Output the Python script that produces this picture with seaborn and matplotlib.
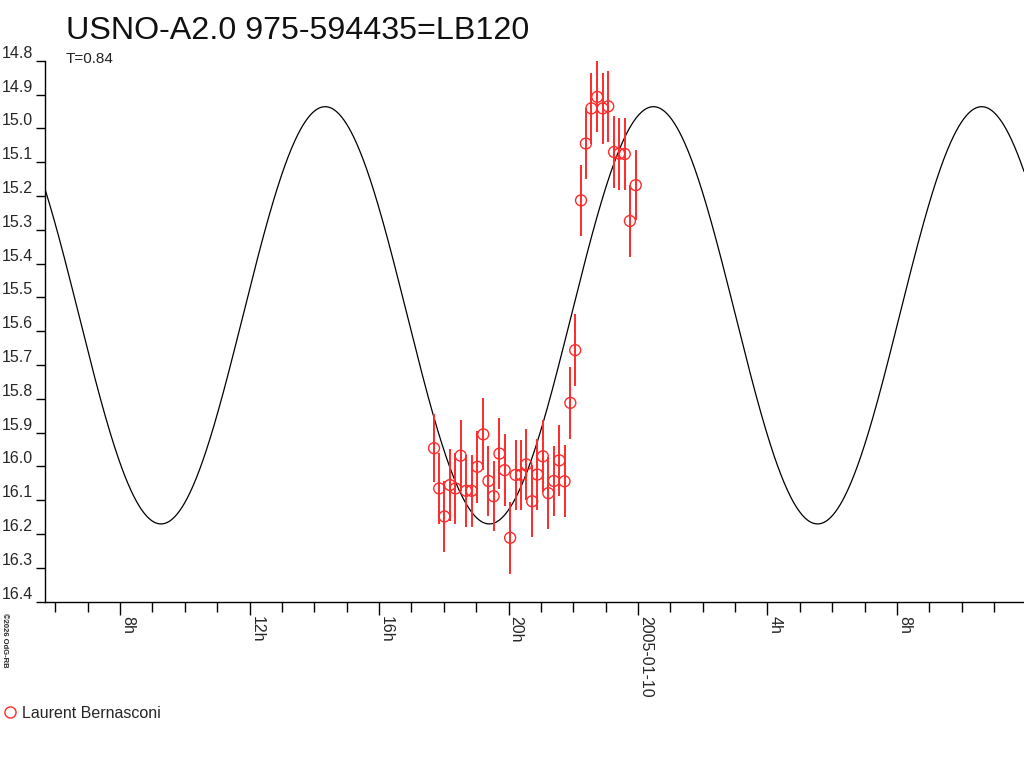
import numpy as np
import pandas as pd
import matplotlib
matplotlib.use("Agg")
import matplotlib.pyplot as plt
from matplotlib.lines import Line2D
from matplotlib.ticker import MultipleLocator, FixedLocator, FixedFormatter
import seaborn as sns

# Observations (hours since 2005-01-09 00:00 UT, magnitude, error)
time_h = [17.70, 17.86, 18.02, 18.19, 18.36, 18.52, 18.69, 18.86, 19.04, 19.22,
          19.38, 19.54, 19.72, 19.88, 20.05, 20.22, 20.39, 20.55, 20.73, 20.89,
          21.06, 21.23, 21.40, 21.57, 21.73, 21.91, 22.06, 22.24, 22.39, 22.56,
          22.74, 22.91, 23.08, 23.26, 23.42, 23.59, 23.75, 23.93]
mag = [15.946, 16.065, 16.148, 16.055, 16.065, 15.968, 16.072, 16.072, 16.001, 15.905,
       16.043, 16.088, 15.962, 16.011, 16.211, 16.025, 16.025, 15.994, 16.103, 16.024,
       15.970, 16.079, 16.043, 15.982, 16.044, 15.812, 15.656, 15.213, 15.045, 14.941,
       14.907, 14.941, 14.935, 15.070, 15.075, 15.076, 15.274, 15.168]
mag_err = [0.101, 0.106, 0.104, 0.106, 0.106, 0.104, 0.106, 0.106, 0.106, 0.106,
           0.104, 0.104, 0.106, 0.106, 0.106, 0.104, 0.104, 0.106, 0.106, 0.104,
           0.106, 0.106, 0.104, 0.106, 0.106, 0.106, 0.106, 0.104, 0.106, 0.106,
           0.105, 0.106, 0.106, 0.106, 0.106, 0.107, 0.107, 0.104]
observer = "Laurent Bernasconi"

# Fitted light-curve model (T = 0.84 d, double wave)
period_days = 0.845
model_max_time = 34.616   # hours, time of a maximum of brightness
model_mag_bright = 14.936
model_mag_faint = 16.170

# Axis ticks
major_hours = [8, 12, 16, 20, 24, 28, 32]
major_labels = ["8h", "12h", "16h", "20h", "2005-01-10", "4h", "8h"]
x_range = (5.683, 35.923)
y_ticks = [14.8, 14.9, 15.0, 15.1, 15.2, 15.3, 15.4, 15.5, 15.6, 15.7,
           15.8, 15.9, 16.0, 16.1, 16.2, 16.3, 16.4]

RED = "#ff2a2a"
FONT = ["Liberation Sans", "DejaVu Sans"]

sns.set_style("white")
plt.rcParams["font.family"] = FONT

obs = pd.DataFrame({"time": time_h, "mag": mag, "err": mag_err})

# model curve sampled across the whole axis
t_model = np.linspace(x_range[0], x_range[1], 1200)
mean_mag = (model_mag_bright + model_mag_faint) / 2
amp = (model_mag_faint - model_mag_bright) / 2
model = pd.DataFrame({
    "time": t_model,
    "mag": mean_mag - amp * np.cos(2 * np.pi * (t_model - model_max_time) / (period_days * 12)),
})

fig = plt.figure(figsize=(10.24, 7.68), dpi=100)
ax = fig.add_axes([45 / 1024, (768 - 601.7) / 768, 979 / 1024, 541 / 768])

sns.lineplot(data=model, x="time", y="mag", ax=ax, color="black", linewidth=0.9,
             sort=False, zorder=2)
ax.errorbar(obs["time"], obs["mag"], yerr=obs["err"], fmt="none", ecolor=RED,
            elinewidth=1.4, capsize=0, zorder=3)
sns.scatterplot(data=obs, x="time", y="mag", ax=ax, marker="o", s=62,
                facecolor="none", edgecolor=RED, linewidth=1.0, zorder=4)

ax.set_xlim(*x_range)
ax.set_ylim(16.4, 14.8)
ax.set_xlabel("")
ax.set_ylabel("")

for side in ["top", "right"]:
    ax.spines[side].set_visible(False)
for side in ["left", "bottom"]:
    ax.spines[side].set_color("black")
    ax.spines[side].set_linewidth(1.0)

ax.xaxis.set_major_locator(FixedLocator(major_hours))
ax.xaxis.set_major_formatter(FixedFormatter(major_labels))
ax.xaxis.set_minor_locator(MultipleLocator(1))
ax.tick_params(axis="x", which="major", direction="out", length=9.5, width=1,
               color="black", pad=1, labelsize=11.5, bottom=True)
ax.tick_params(axis="x", which="minor", direction="out", length=7.2, width=1,
               color="black", bottom=True)
for lab in ax.get_xticklabels():
    lab.set_rotation(-90)
    lab.set_ha("left")
    lab.set_va("top")

ax.set_yticks(y_ticks)
ax.set_yticklabels([f"{v:.1f}" for v in y_ticks])
ax.tick_params(axis="y", direction="out", length=6.5, width=1, color="black",
               pad=2, labelsize=11.5, left=True)
for lab in ax.get_yticklabels():
    lab.set_va("bottom")

fig.text(66 / 1024, 1 - 39 / 768, "USNO-A2.0 975-594435=LB120", fontsize=23.2,
         ha="left", va="baseline", color="#111111")
fig.text(66 / 1024, 1 - 63 / 768, "T=0.84", fontsize=11, ha="left",
         va="baseline", color="#222222")
fig.text(1 / 1024, 1 - 613 / 768, "\u00a92026 OdG-RB", fontsize=5.5,
         fontweight="bold", rotation=-90, ha="left", va="top")

handle = Line2D([], [], linestyle="none", marker="o", markersize=8,
                markerfacecolor="none", markeredgecolor=RED, markeredgewidth=1.0)
fig.legend([handle], [observer], loc="center left",
           bbox_to_anchor=(0.0, 1 - 713 / 768), frameon=False, fontsize=11.5,
           handlelength=0.8, handletextpad=0.35, borderaxespad=0.0, borderpad=0.2)

fig.savefig("out.png", dpi=100, facecolor="white")
